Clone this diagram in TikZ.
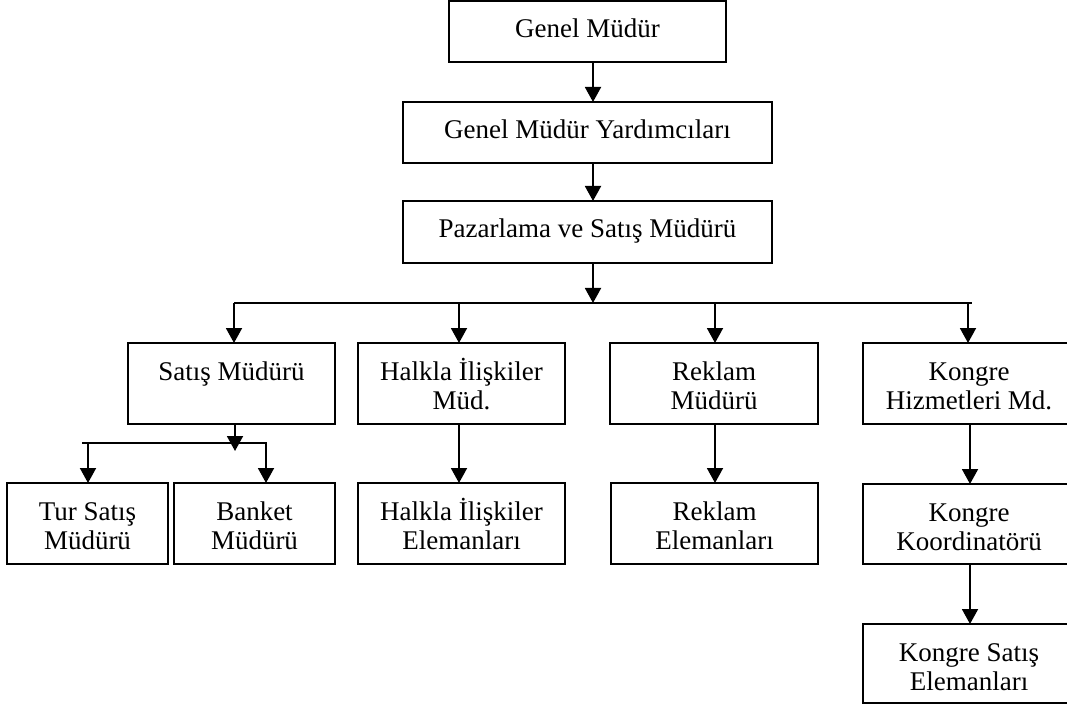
\documentclass[tikz,border=0pt]{standalone}
\usepackage{fontspec}
\setmainfont{Liberation Serif}
\usetikzlibrary{arrows.meta}

% Box with its text set from the top: first baseline 37pt below the top edge
\newcommand\orgbox[6]{%
  \pgfmathsetmacro\bw{#4-#2}%
  \pgfmathsetmacro\bh{#5-#3}%
  \node[orgnode] (#1) at ({(#2+#4)/2},{-(#3+#5)/2})
    {\parbox[c][\bh pt][t]{\bw pt}{\centering\rule{0pt}{37pt}#6}};%
}

\begin{document}
\begin{tikzpicture}[x=1pt,y=1pt,
  orgnode/.style={draw, line width=1.9pt, inner sep=0pt, outer sep=0pt,
    font=\fontsize{27}{29}\selectfont},
  conn/.style={line width=1.9pt},
  arr/.style={conn, -{Triangle[width=16pt,length=15pt]}}]
\useasboundingbox (0,0) rectangle (1067,-708);
\clip (0,0) rectangle (1067,-708);

% top chain
\orgbox{gm}{449}{1}{726}{62}{Genel Müdür}
\orgbox{gmy}{403}{102}{772}{163}{Genel Müdür Yardımcıları}
\orgbox{pz}{403}{201}{772}{263}{Pazarlama ve Satış Müdürü}

% department managers
\orgbox{sm}{128}{343}{335}{424}{Satış Müdürü\\\mbox{}}
\orgbox{hm}{358}{343}{565}{424}{Halkla İlişkiler\\Müd.}
\orgbox{rm}{610}{343}{818}{424}{Reklam\\Müdürü}
\orgbox{km}{863}{343}{1075}{424}{Kongre\\Hizmetleri Md.}

% staff level
\orgbox{tsm}{7}{483}{168}{564}{Tur Satış\\Müdürü}
\orgbox{bm}{174}{483}{335}{564}{Banket\\Müdürü}
\orgbox{he}{358}{483}{565}{564}{Halkla İlişkiler\\Elemanları}
\orgbox{re}{611}{483}{818}{564}{Reklam\\Elemanları}
\orgbox{kk}{863}{484}{1075}{564}{Kongre\\Koordinatörü}
\orgbox{kse}{863}{624}{1075}{703}{Kongre Satış\\Elemanları}

% stem positions
\coordinate (cx) at (593,0);
\coordinate (busy) at (0,-303);
\coordinate (busL) at (234,-303);
\coordinate (busR) at (972,-303);
\coordinate (d1) at (234,0);
\coordinate (d2) at (459,0);
\coordinate (d3) at (715,0);
\coordinate (d4) at (968,0);
\coordinate (sx) at (235,0);
\coordinate (sbusL) at (82,-443);
\coordinate (sbusR) at (267,-443);
\coordinate (sd1) at (88,0);
\coordinate (sd2) at (266,0);
\coordinate (kx) at (970,0);

% top chain connectors
\draw[arr] (gm.south -| cx) -- (gmy.north -| cx);
\draw[arr] (gmy.south -| cx) -- (pz.north -| cx);
\draw[arr] (pz.south -| cx) -- (busy -| cx);

% distribution bus
\draw[conn] (busL) -- (busR);
\draw[arr] (busy -| d1) -- (sm.north -| d1);
\draw[arr] (busy -| d2) -- (hm.north -| d2);
\draw[arr] (busy -| d3) -- (rm.north -| d3);
\draw[arr] (busy -| d4) -- (km.north -| d4);

% sales manager branch
\draw[conn] (sbusL) -- (sbusR);
\draw[arr] (sm.south -| sx) -- ([yshift=-8pt]sbusL -| sx);
\draw[arr] (sbusL -| sd1) -- (tsm.north -| sd1);
\draw[arr] (sbusL -| sd2) -- (bm.north -| sd2);

% single-line branches
\draw[arr] (hm.south -| d2) -- (he.north -| d2);
\draw[arr] (rm.south -| d3) -- (re.north -| d3);
\draw[arr] (km.south -| kx) -- (kk.north -| kx);
\draw[arr] (kk.south -| kx) -- (kse.north -| kx);
\end{tikzpicture}
\end{document}
